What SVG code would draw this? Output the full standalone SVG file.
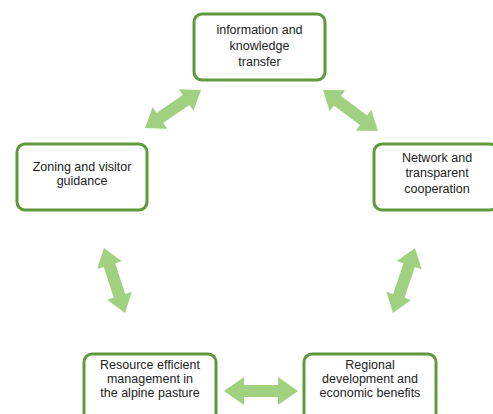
<svg xmlns="http://www.w3.org/2000/svg" width="493" height="414" viewBox="0 0 493 414">
<style>
.box{fill:#ffffff;stroke:#5e9a3a;stroke-width:3}
.arr{fill:#9fd181}
text{font-family:"Liberation Sans",Arial,sans-serif;font-size:12.5px;fill:#222;text-anchor:middle}
</style>
<rect width="493" height="414" fill="#ffffff"/>
<g id="connectors">
<polygon class="arr" transform="translate(145,128) rotate(-34.2)" points="0,0 18,-13 18,-6 49.7,-6 49.7,-13 67.7,0 49.7,13 49.7,6 18,6 18,13"/>
<polygon class="arr" transform="translate(323,90) rotate(36.7)" points="0,0 18,-13 18,-6 50.6,-6 50.6,-13 68.6,0 50.6,13 50.6,6 18,6 18,13"/>
<polygon class="arr" transform="translate(104,248) rotate(72.1)" points="0,0 18,-13 18,-6 50.3,-6 50.3,-13 68.3,0 50.3,13 50.3,6 18,6 18,13"/>
<polygon class="arr" transform="translate(415,248) rotate(108.7)" points="0,0 18,-13 18,-6 50.6,-6 50.6,-13 68.6,0 50.6,13 50.6,6 18,6 18,13"/>
<polygon class="arr" transform="translate(224,391)" points="0,0 20,-14 20,-6 54,-6 54,-14 74,0 54,14 54,6 20,6 20,14"/>
</g>
<g id="n-info">
<rect class="box" x="194" y="14" width="131" height="66" rx="8"/>
<text x="259.5" y="34">information and</text>
<text x="259.5" y="50">knowledge</text>
<text x="259.5" y="66">transfer</text>
</g>
<g id="n-zoning">
<rect class="box" x="17" y="144" width="130" height="66" rx="8"/>
<text x="82" y="171">Zoning and visitor</text>
<text x="82" y="185">guidance</text>
</g>
<g id="n-network">
<rect class="box" x="374" y="144" width="124" height="66" rx="8"/>
<text x="437" y="162">Network and</text>
<text x="437" y="177">transparent</text>
<text x="437" y="193">cooperation</text>
</g>
<g id="n-resource">
<rect class="box" x="84" y="354" width="132" height="70" rx="8"/>
<text x="150" y="369">Resource efficient</text>
<text x="150" y="383">management in</text>
<text x="150" y="397">the alpine pasture</text>
</g>
<g id="n-regional">
<rect class="box" x="304" y="354" width="132" height="70" rx="8"/>
<text x="370" y="369">Regional</text>
<text x="370" y="383">development and</text>
<text x="370" y="397">economic benefits</text>
</g>
</svg>
